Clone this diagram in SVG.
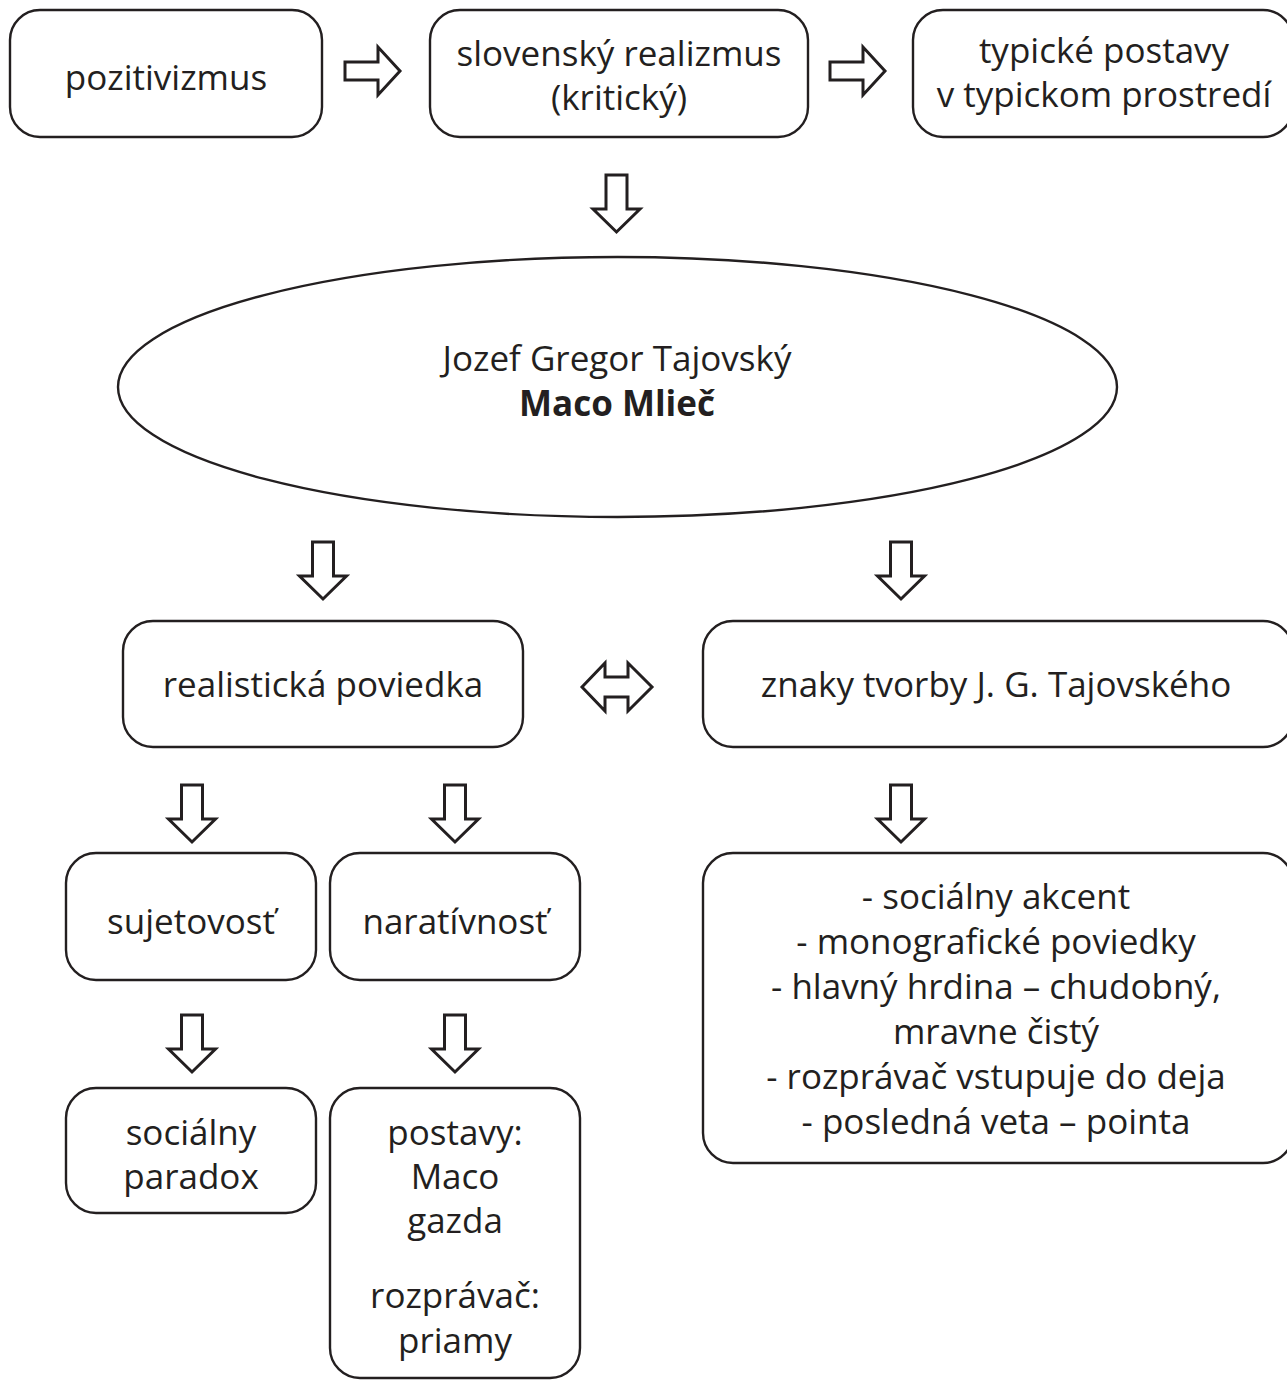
<svg xmlns="http://www.w3.org/2000/svg" width="1287" height="1380" viewBox="0 0 1287 1380">
  <style>
    .box { fill: #ffffff; stroke: #231f20; stroke-width: 2.4; }
    .arrow { fill: #ffffff; stroke: #231f20; stroke-width: 3; stroke-linejoin: miter; }
    text { font-family: "Open Sans", "Noto Sans", "DejaVu Sans", sans-serif; font-size: 35px; fill: #231f20; text-anchor: middle; }
    .bold { font-weight: bold; }
  </style>
  <defs>
    <!-- hollow block arrows; origin at tail centre -->
    <path id="arrowDown" d="M-10.5,0 H10.5 V34 H23.5 L0,57 L-23.5,34 H-10.5 Z"/>
    <path id="arrowRight" d="M0,-9 H33 V-24 L55,0 L33,24 V9 H0 Z"/>
  </defs>
  <rect width="1287" height="1380" fill="#ffffff"/>

  <g id="connectors">
    <use href="#arrowRight" class="arrow" x="345" y="71"/>
    <use href="#arrowRight" class="arrow" x="830" y="71"/>
    <use href="#arrowDown" class="arrow" x="616.5" y="175"/>
    <use href="#arrowDown" class="arrow" x="323" y="542"/>
    <use href="#arrowDown" class="arrow" x="901" y="542"/>
    <use href="#arrowDown" class="arrow" x="192" y="785"/>
    <use href="#arrowDown" class="arrow" x="455" y="785"/>
    <use href="#arrowDown" class="arrow" x="901" y="785"/>
    <use href="#arrowDown" class="arrow" x="192" y="1015"/>
    <use href="#arrowDown" class="arrow" x="455" y="1015"/>
    <path class="arrow" d="M582,687 L605,663 V677 H628 V663 L652,687 L628,711 V697 H605 V711 Z"/>
  </g>

  <g id="pozitivizmus">
    <rect class="box" x="10" y="10" width="312" height="127" rx="30"/>
    <text x="166" y="90">pozitivizmus</text>
  </g>

  <g id="realizmus">
    <rect class="box" x="430" y="10" width="378" height="127" rx="30"/>
    <text x="619" y="66">slovenský realizmus</text>
    <text x="619" y="110">(kritický)</text>
  </g>

  <g id="postavy-prostredie">
    <rect class="box" x="913" y="10" width="380" height="127" rx="30"/>
    <text x="1104" y="63">typické postavy</text>
    <text x="1104" y="107">v typickom prostredí</text>
  </g>

  <g id="tajovsky">
    <ellipse class="box" cx="617.5" cy="387" rx="499.5" ry="130"/>
    <text x="617" y="371">Jozef Gregor Tajovský</text>
    <text class="bold" x="617" y="416">Maco Mlieč</text>
  </g>

  <g id="poviedka">
    <rect class="box" x="123" y="621" width="400" height="126" rx="30"/>
    <text x="323" y="697">realistická poviedka</text>
  </g>

  <g id="znaky">
    <rect class="box" x="703" y="621" width="590" height="126" rx="30"/>
    <text x="996" y="697">znaky tvorby J. G. Tajovského</text>
  </g>

  <g id="sujetovost">
    <rect class="box" x="66" y="853" width="250" height="127" rx="30"/>
    <text x="191" y="934">sujetovosť</text>
  </g>

  <g id="narativnost">
    <rect class="box" x="330" y="853" width="250" height="127" rx="30"/>
    <text x="455" y="934">naratívnosť</text>
  </g>

  <g id="znaky-zoznam">
    <rect class="box" x="703" y="853" width="590" height="310" rx="30"/>
    <text x="996" y="909">- sociálny akcent</text>
    <text x="996" y="954">- monografické poviedky</text>
    <text x="996" y="999">- hlavný hrdina – chudobný,</text>
    <text x="996" y="1044">mravne čistý</text>
    <text x="996" y="1089">- rozprávač vstupuje do deja</text>
    <text x="996" y="1134">- posledná veta – pointa</text>
  </g>

  <g id="paradox">
    <rect class="box" x="66" y="1088" width="250" height="125" rx="30"/>
    <text x="191" y="1145">sociálny</text>
    <text x="191" y="1189">paradox</text>
  </g>

  <g id="postavy">
    <rect class="box" x="330" y="1088" width="250" height="290" rx="30"/>
    <text x="455" y="1145">postavy:</text>
    <text x="455" y="1189">Maco</text>
    <text x="455" y="1233">gazda</text>
    <text x="455" y="1308">rozprávač:</text>
    <text x="455" y="1353">priamy</text>
  </g>
</svg>
